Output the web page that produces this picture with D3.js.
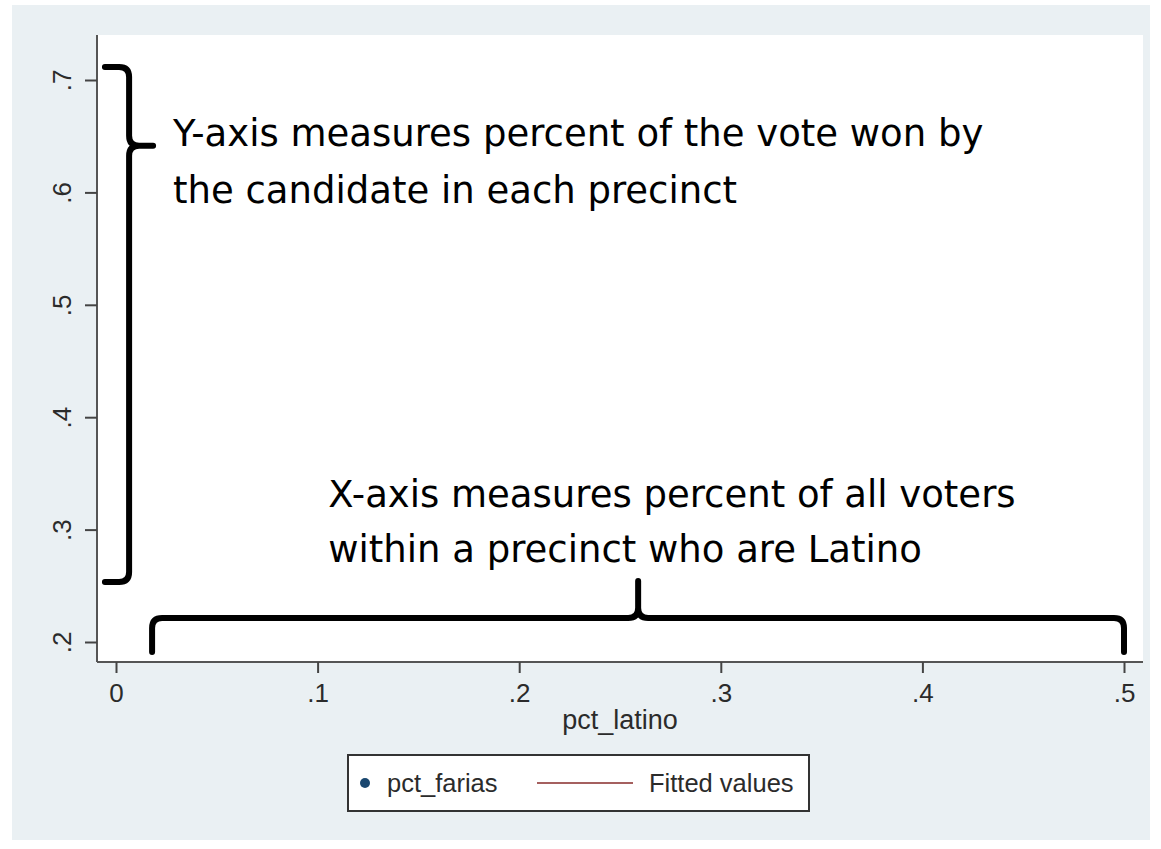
<!DOCTYPE html>
<html>
<head>
<meta charset="utf-8">
<script src="https://cdn.jsdelivr.net/npm/d3@7"></script>
<style>
  html, body { margin: 0; padding: 0; background: #ffffff; }
  svg { display: block; }
</style>
</head>
<body>
<div id="chart"></div>
<script>
// tick values and legend entries
const xTicks = [0, 0.1, 0.2, 0.3, 0.4, 0.5];
const yTicks = [0.2, 0.3, 0.4, 0.5, 0.6, 0.7];
const xTitle = "pct_latino";
const legendItems = [
    { name: "pct_farias", kind: "dot", color: "#1a476f" },
    { name: "Fitted values", kind: "line", color: "#a5605f" }
];

// annotations (in data units)
const yNoteLines = ["Y-axis measures percent of the vote won by", "the candidate in each precinct"];
const xNoteLines = ["X-axis measures percent of all voters", "within a precinct who are Latino"];
// brace spanning the y axis: x of ends / spine / tip, y of top / tip / bottom
const yBrace = { xEnd: -0.0055, xSpine: 0.0065, xTip: 0.0184, yTop: 0.7116, yTip: 0.6415, yBot: 0.2534 };
// brace spanning the x axis
const xBrace = { x0: 0.0179, xTip: 0.259, x1: 0.5, yEnd: 0.1911, yBar: 0.2213, yTip: 0.2543 };
const yNotePos = { x: 0.0283, y: [0.6415, 0.5906] };
const xNotePos = { x: 0.1053, y: [0.3201, 0.2712] };

const width = 1161, height = 849;

const svg = d3.select("#chart")
    .append("svg")
    .attr("width", width)
    .attr("height", height);

// outer (graph region) background
svg.append("rect")
    .attr("x", 12).attr("y", 5)
    .attr("width", 1138).attr("height", 835)
    .attr("fill", "#eaf0f3");

// plot region
const plot = { left: 97, right: 1143, top: 35, bottom: 662 };
svg.append("rect")
    .attr("x", plot.left).attr("y", plot.top)
    .attr("width", plot.right - plot.left).attr("height", plot.bottom - plot.top)
    .attr("fill", "#ffffff");

const x = d3.scaleLinear().domain([0, 0.5]).range([116, 1124]);
const y = d3.scaleLinear().domain([0.2, 0.7]).range([642, 80]);

const fmt = d => d === 0 ? "0" : d3.format(".1f")(d).replace(/^0/, "");
const labelFont = "'Liberation Sans', Arial, sans-serif";

// x axis
const xAxis = svg.append("g")
    .attr("transform", `translate(0,${plot.bottom})`)
    .call(d3.axisBottom(x).tickValues(xTicks).tickFormat(fmt).tickSize(11).tickPadding(11));
xAxis.select(".domain").attr("d", `M${plot.left},0H${plot.right}`);

// y axis
const yAxis = svg.append("g")
    .attr("transform", `translate(${plot.left},0)`)
    .call(d3.axisLeft(y).tickValues(yTicks).tickFormat(fmt).tickSize(12).tickPadding(8));
yAxis.select(".domain").attr("d", `M0,${plot.top}V${plot.bottom}`);

svg.selectAll(".domain").attr("stroke", "#555").attr("stroke-width", 2);
svg.selectAll(".tick line").attr("stroke", "#444").attr("stroke-width", 2);
svg.selectAll(".tick text")
    .attr("fill", "#2b2b2b")
    .style("font-family", labelFont)
    .style("font-size", "26px");

// rotate y tick labels like Stata
yAxis.selectAll(".tick text")
    .attr("x", null)
    .attr("text-anchor", "middle")
    .attr("transform", "translate(-35,0) rotate(-90)")
    .attr("dy", "0.35em");

// x title
svg.append("text")
    .attr("x", (plot.left + plot.right) / 2)
    .attr("y", 729)
    .attr("text-anchor", "middle")
    .attr("fill", "#2b2b2b")
    .style("font-family", labelFont)
    .style("font-size", "27px")
    .text(xTitle);

// braces
const r = 10;
const yb = yBrace;
const ybPath = [
    `M${x(yb.xEnd)},${y(yb.yTop)}H${x(yb.xSpine) - r}`,
    `Q${x(yb.xSpine)},${y(yb.yTop)} ${x(yb.xSpine)},${y(yb.yTop) + r}`,
    `V${y(yb.yTip) - r}`,
    `Q${x(yb.xSpine)},${y(yb.yTip)} ${x(yb.xSpine) + r},${y(yb.yTip)}`,
    `H${x(yb.xTip)}`,
    `M${x(yb.xSpine) + r},${y(yb.yTip)}`,
    `Q${x(yb.xSpine)},${y(yb.yTip)} ${x(yb.xSpine)},${y(yb.yTip) + r}`,
    `V${y(yb.yBot) - r}`,
    `Q${x(yb.xSpine)},${y(yb.yBot)} ${x(yb.xSpine) - r},${y(yb.yBot)}`,
    `H${x(yb.xEnd)}`
].join("");

const xb = xBrace;
const xbPath = [
    `M${x(xb.x0)},${y(xb.yEnd)}V${y(xb.yBar) + r}`,
    `Q${x(xb.x0)},${y(xb.yBar)} ${x(xb.x0) + r},${y(xb.yBar)}`,
    `H${x(xb.xTip) - r}`,
    `Q${x(xb.xTip)},${y(xb.yBar)} ${x(xb.xTip)},${y(xb.yBar) - r}`,
    `V${y(xb.yTip)}`,
    `M${x(xb.xTip)},${y(xb.yBar) - r}`,
    `Q${x(xb.xTip)},${y(xb.yBar)} ${x(xb.xTip) + r},${y(xb.yBar)}`,
    `H${x(xb.x1) - r}`,
    `Q${x(xb.x1)},${y(xb.yBar)} ${x(xb.x1)},${y(xb.yBar) + r}`,
    `V${y(xb.yEnd)}`
].join("");

svg.append("g")
    .selectAll("path")
    .data([ybPath, xbPath])
    .join("path")
    .attr("d", d => d)
    .attr("fill", "none")
    .attr("stroke", "#000")
    .attr("stroke-width", 6)
    .attr("stroke-linecap", "round")
    .attr("stroke-linejoin", "round");

// annotation text
const noteFont = "'DejaVu Sans', sans-serif";
function notes(lines, pos) {
    svg.append("g")
        .selectAll("text")
        .data(lines)
        .join("text")
        .attr("x", x(pos.x))
        .attr("y", (d, i) => y(pos.y[i]))
        .attr("fill", "#000")
        .style("font-family", noteFont)
        .style("font-size", "37px")
        .text(d => d);
}
notes(yNoteLines, yNotePos);
notes(xNoteLines, xNotePos);

// legend
const legend = svg.append("g").attr("transform", "translate(348,755)");
legend.append("rect")
    .attr("width", 461).attr("height", 56)
    .attr("fill", "#ffffff")
    .attr("stroke", "#333")
    .attr("stroke-width", 2);

const item = legend.selectAll("g.item")
    .data(legendItems)
    .join("g")
    .attr("class", "item")
    .attr("transform", (d, i) => `translate(${i === 0 ? 17 : 189},28)`);

item.filter(d => d.kind === "dot").append("circle")
    .attr("r", 5)
    .attr("fill", d => d.color);
item.filter(d => d.kind === "line").append("line")
    .attr("x1", 0).attr("x2", 96)
    .attr("stroke", d => d.color)
    .attr("stroke-width", 2);
item.append("text")
    .attr("x", d => d.kind === "dot" ? 22 : 112)
    .attr("dy", "0.35em")
    .attr("fill", "#2b2b2b")
    .style("font-family", labelFont)
    .style("font-size", "25.5px")
    .text(d => d.name);
</script>
</body>
</html>
